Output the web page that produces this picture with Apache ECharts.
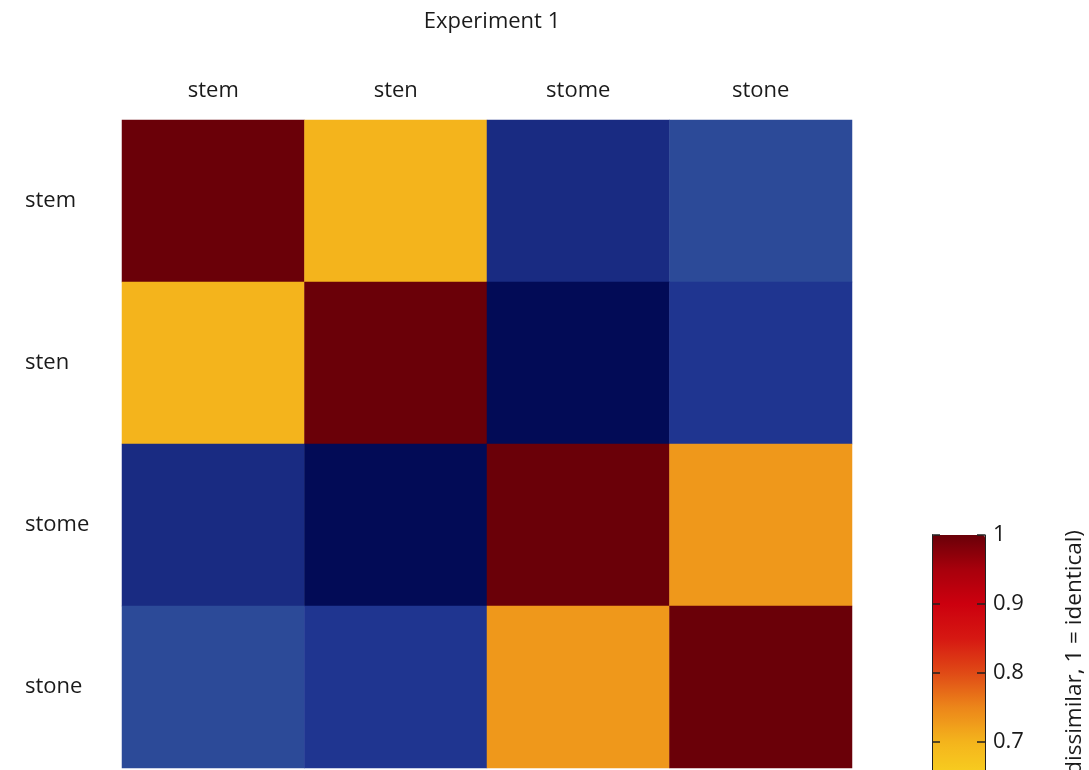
<!DOCTYPE html>
<html>
<head>
<meta charset="utf-8">
<script src="https://cdn.jsdelivr.net/npm/echarts@6/dist/echarts.min.js"></script>
<style>
html,body{margin:0;padding:0;background:#fff;height:770px;overflow:hidden;}
#chart{width:1089px;height:1300px;}
</style>
</head>
<body>
<div id="chart"></div>
<script>
var words = ['stem', 'sten', 'stome', 'stone'];
// similarity matrix rows (same order as words)
var rowStem  = [1.00, 0.70, 0.11, 0.21];
var rowSten  = [0.70, 1.00, 0.01, 0.15];
var rowStome = [0.11, 0.01, 1.00, 0.73];
var rowStone = [0.21, 0.15, 0.73, 1.00];
var colormap = ['#000850','#0c1870','#18287f','#1f3590','#2a4796','#3558a0','#4a6aa8','#6a82a8','#90a0a0','#b8b890','#dcd070','#f4dc40','#fadc28','#f8d020','#f4b41c','#ec861a','#e04a16','#d61812','#cc000e','#a8000c','#6a0008'];

var rows = [rowStem, rowSten, rowStome, rowStone];
var heat = [];
rows.forEach(function (r, i) {
  r.forEach(function (v, j) { heat.push([j, i, v]); });
});

var font = '"Open Sans", "Noto Sans", sans-serif';
var chart = echarts.init(document.getElementById('chart'));
chart.setOption({
  backgroundColor: '#fff',
  animation: false,
  title: {
    text: 'Experiment 1', left: 487, top: 6, textAlign: 'center',
    textStyle: {fontFamily: font, fontSize: 22, fontWeight: 'normal', color: '#1a1a1a'}
  },
  grid: [
    {left: 122, top: 120, width: 730, height: 648},
    {left: 932, top: 535, width: 53, height: 690}
  ],
  xAxis: [
    {type: 'category', data: words, position: 'top', gridIndex: 0,
     axisLine: {show: false}, axisTick: {show: false}, splitLine: {show: false},
     axisLabel: {fontFamily: font, fontSize: 22, color: '#1a1a1a', margin: 18}},
    {type: 'category', data: [''], position: 'top', gridIndex: 1, z: 10,
     axisLine: {show: true, lineStyle: {color: '#222', width: 1}},
     axisTick: {show: false}, axisLabel: {show: false}, splitLine: {show: false}}
  ],
  yAxis: [
    {type: 'category', data: words, inverse: true, gridIndex: 0,
     axisLine: {show: false}, axisTick: {show: false}, splitLine: {show: false},
     axisLabel: {fontFamily: font, fontSize: 22, color: '#1a1a1a', align: 'left', margin: 97}},
    {type: 'value', min: 0, max: 1, interval: 0.1, gridIndex: 1, position: 'left', z: 10,
     axisLine: {show: true, lineStyle: {color: '#222', width: 1}},
     axisTick: {show: true, inside: true, length: 8, lineStyle: {color: '#222', width: 1.5}},
     axisLabel: {show: false}, splitLine: {show: false}},
    {type: 'value', min: 0, max: 1, interval: 0.1, gridIndex: 1, position: 'right', z: 10,
     axisLine: {show: true, lineStyle: {color: '#222', width: 1}},
     axisTick: {show: true, inside: true, length: 8, lineStyle: {color: '#222', width: 1.5}},
     axisLabel: {show: true, fontFamily: font, fontSize: 22, color: '#1a1a1a', margin: 8,
       formatter: function (v) { return String(Math.round(v * 10) / 10); }},
     splitLine: {show: false}}
  ],
  visualMap: {
    type: 'continuous', min: 0, max: 1, seriesIndex: 0, show: true,
    calculable: false, hoverLink: false, text: null, padding: 0,
    left: 932, top: 535, itemWidth: 53, itemHeight: 690,
    inRange: {color: colormap}
  },
  graphic: [{
    type: 'text', x: 1075, y: 530, rotation: Math.PI / 2,
    style: {text: '(0 = dissimilar, 1 = identical)', font: '22.5px ' + font, fill: '#1a1a1a',
      align: 'right', verticalAlign: 'middle'}
  }],
  series: [{
    type: 'heatmap', data: heat, xAxisIndex: 0, yAxisIndex: 0,
    itemStyle: {borderWidth: 0},
    emphasis: {disabled: true},
    label: {show: false}
  }]
});
</script>
</body>
</html>
